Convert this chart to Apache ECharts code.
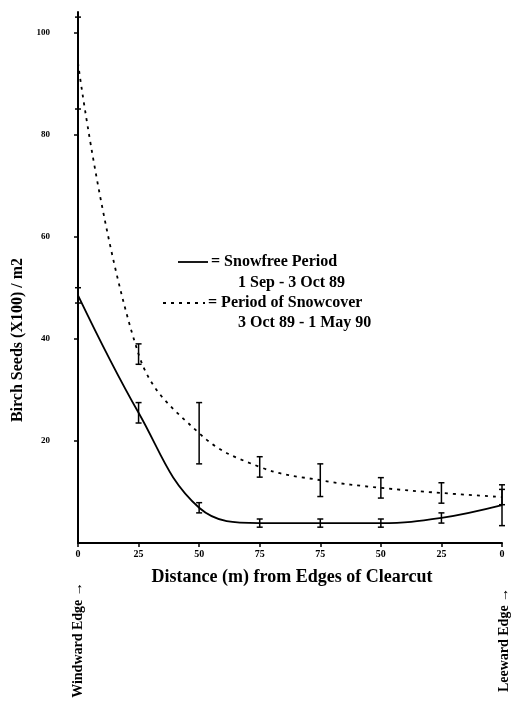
<!DOCTYPE html>
<html><head><meta charset="utf-8">
<script src="https://cdn.jsdelivr.net/npm/echarts@6/dist/echarts.min.js"></script>
<style>html,body{margin:0;padding:0;background:#fff}#c{width:512px;height:702px}</style>
</head><body><div id="c"></div>
<script>
var xLabels = ['0','25','50','75','75','50','25','0'];
var positions = [0,1,2,3,4,5,6,7];
var snowfree = [48.5, 25.5, 6.9, 3.9, 3.9, 3.9, 4.9, 7.4];
var snowfreeErr = [1.5, 2, 1, 0.8, 0.8, 0.8, 1, 4];
var snowcover = [94, 37, 21.5, 14.9, 12.3, 10.8, 9.8, 9.0];
var snowcoverErr = [9, 2, 6, 2, 3.2, 2, 2, 1.5];
var yTicks = [0, 20, 40, 60, 80, 100];

var serif = '"Liberation Serif","DejaVu Serif",serif';
function pts(v){ return positions.map(function(p,i){ return [p, v[i]]; }); }
function errs(v,e){ return positions.map(function(p,i){ return [p, v[i]-e[i], v[i]+e[i]]; }); }
function errRender(params, api){
  var x = api.value(0), lo = api.coord([x, api.value(1)]), hi = api.coord([x, api.value(2)]);
  var w = 3;
  var st = {stroke:'#000', lineWidth:1.5};
  return {type:'group', children:[
    {type:'line', shape:{x1:lo[0],y1:lo[1],x2:hi[0],y2:hi[1]}, style:st},
    {type:'line', shape:{x1:lo[0]-w,y1:lo[1],x2:lo[0]+w,y2:lo[1]}, style:st},
    {type:'line', shape:{x1:hi[0]-w,y1:hi[1],x2:hi[0]+w,y2:hi[1]}, style:st}
  ]};
}
var chart = echarts.init(document.getElementById('c'), null, {renderer:'canvas'});
chart.setOption({
  animation:false,
  backgroundColor:'#fff',
  grid:{left:78, right:10, top:12, bottom:159},
  xAxis:{type:'value', min:0, max:7, interval:1,
    axisLine:{lineStyle:{color:'#000', width:2}},
    axisTick:{show:true, length:4, lineStyle:{color:'#000', width:1.5}},
    splitLine:{show:false},
    axisLabel:{color:'#000', fontFamily:serif, fontWeight:'bold', fontSize:10, margin:6,
      formatter:function(v){ return xLabels[Math.round(v)]; }}
  },
  yAxis:{type:'value', min:0, max:104, interval:20,
    axisLine:{show:true, lineStyle:{color:'#000', width:2}},
    axisTick:{show:true, length:4, lineStyle:{color:'#000', width:1.5}},
    splitLine:{show:false},
    axisLabel:{color:'#000', fontFamily:serif, fontWeight:'bold', fontSize:9, margin:28,
      align:'right', showMinLabel:false, showMaxLabel:false,
      formatter:function(v){ return yTicks.indexOf(v) >= 0 ? String(v) : ''; }}
  },
  series:[
    {type:'line', data:pts(snowfree), smooth:0.4, symbol:'none',
      lineStyle:{color:'#000', width:1.8}},
    {type:'line', data:pts(snowcover), smooth:0.4, symbol:'none',
      lineStyle:{color:'#000', width:1.8, type:[3,5]}},
    {type:'custom', data:errs(snowfree, snowfreeErr), renderItem:errRender, z:5},
    {type:'custom', data:errs(snowcover, snowcoverErr), renderItem:errRender, z:5}
  ],
  graphic:[
    {type:'text', x:18, y:340, rotation:Math.PI/2, style:{text:'Birch Seeds (X100) / m2', font:'bold 16px '+serif, fill:'#000', textAlign:'center', textVerticalAlign:'middle'}},
    {type:'text', x:292, y:577, style:{text:'Distance (m) from Edges of Clearcut', font:'bold 18px '+serif, fill:'#000', textAlign:'center', textVerticalAlign:'middle'}},
    {type:'text', x:78, y:640, rotation:Math.PI/2, style:{text:'Windward Edge \u2192', font:'bold 14px '+serif, fill:'#000', textAlign:'center', textVerticalAlign:'middle'}},
    {type:'text', x:504, y:640, rotation:Math.PI/2, style:{text:'Leeward Edge \u2192', font:'bold 14px '+serif, fill:'#000', textAlign:'center', textVerticalAlign:'middle'}},
    {type:'line', shape:{x1:178,y1:262,x2:208,y2:262}, style:{stroke:'#000', lineWidth:1.8}},
    {type:'text', x:211, y:262, style:{text:'= Snowfree Period', font:'bold 16px '+serif, fill:'#000', textVerticalAlign:'middle'}},
    {type:'text', x:238, y:283, style:{text:'1 Sep - 3 Oct 89', font:'bold 16px '+serif, fill:'#000', textVerticalAlign:'middle'}},
    {type:'line', shape:{x1:163,y1:303,x2:205,y2:303}, style:{stroke:'#000', lineWidth:1.8, lineDash:[3,5]}},
    {type:'text', x:208, y:303, style:{text:'= Period of Snowcover', font:'bold 16px '+serif, fill:'#000', textVerticalAlign:'middle'}},
    {type:'text', x:238, y:323, style:{text:'3 Oct 89 - 1 May 90', font:'bold 16px '+serif, fill:'#000', textVerticalAlign:'middle'}}
  ]
});
</script></body></html>
